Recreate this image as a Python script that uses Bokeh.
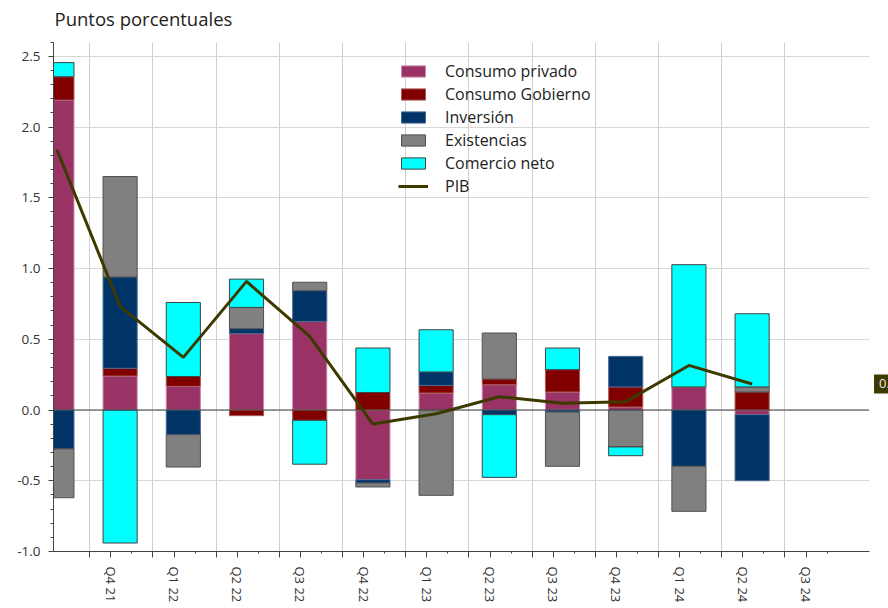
import numpy as np
from bokeh.plotting import figure
from bokeh.models import (ColumnDataSource, Range1d, FixedTicker, CustomJSTickFormatter,
                          Legend, LegendItem, Label)
from bokeh.embed import file_html
from bokeh.resources import INLINE

# ---------------- data ----------------
quarters = ["Q3 21", "Q4 21", "Q1 22", "Q2 22", "Q3 22", "Q4 22",
            "Q1 23", "Q2 23", "Q3 23", "Q4 23", "Q1 24", "Q2 24"]
tick_labels = ["Q4 21", "Q1 22", "Q2 22", "Q3 22", "Q4 22", "Q1 23",
               "Q2 23", "Q3 23", "Q4 23", "Q1 24", "Q2 24", "Q3 24"]

consumo_privado = [2.19, 0.24, 0.167, 0.54, 0.626, -0.493, 0.12, 0.179, 0.127, 0.021, 0.163, -0.033]
consumo_gobierno = [0.165, 0.055, 0.07, -0.04, -0.073, 0.124, 0.054, 0.04, 0.158, 0.142, 0.0, 0.127]
inversion = [-0.275, 0.645, -0.175, 0.035, 0.217, -0.023, 0.095, -0.033, -0.015, 0.216, -0.398, -0.467]
existencias = [-0.345, 0.71, -0.228, 0.15, 0.06, -0.028, -0.603, 0.325, -0.383, -0.261, -0.318, 0.036]
comercio_neto = [0.10, -0.94, 0.523, 0.20, -0.31, 0.314, 0.298, -0.443, 0.153, -0.062, 0.864, 0.517]
pib = [1.84, 0.732, 0.372, 0.909, 0.52, -0.099, -0.026, 0.094, 0.047, 0.059, 0.315, 0.184]
pib_last_label = "0.18"

y_ticks = [-1.0, -0.5, 0.0, 0.5, 1.0, 1.5, 2.0, 2.5]

series_names = ["Consumo privado", "Consumo Gobierno", "Inversión", "Existencias", "Comercio neto"]
series_values = [consumo_privado, consumo_gobierno, inversion, existencias, comercio_neto]
fill_colors = ["#993366", "#800000", "#003366", "#808080", "#00ffff"]
line_colors = ["#c98aa9", "#a85a5a", "#4a6a90", "#505050", "#404040"]
pib_color = "#3d3a00"
title_text = "Puntos porcentuales"

FONT = "Open Sans"

# ---------------- layout constants ----------------
W, H = 888, 608
LEFT, BOTTOM = 53, 57
PX_X, PX_Y = 63.2, 141.5           # pixels per unit
X_LO, X_AXIS_HI = -0.054, 12.85    # visible axis extent
Y_LO, Y_AXIS_HI = -1.0, 2.6
X_HI = X_LO + (W - LEFT) / PX_X    # frame spans to the right edge
Y_HI = Y_LO + (H - BOTTOM) / PX_Y  # frame spans to the top edge

n = len(quarters)
xs = np.arange(n, dtype=float)

p = figure(width=W, height=H, output_backend="svg", toolbar_location=None,
           x_range=Range1d(X_LO, X_HI), y_range=Range1d(Y_LO, Y_HI),
           min_border_left=LEFT, min_border_right=0, min_border_top=0,
           min_border_bottom=BOTTOM)
p.outline_line_color = None
p.background_fill_color = "white"
p.border_fill_color = "white"

# stacked bars (positives and negatives stacked separately)
pos_base = np.zeros(n)
neg_base = np.zeros(n)
renderers = []
for name, vals, fc, lc in zip(series_names, series_values, fill_colors, line_colors):
    v = np.array(vals, dtype=float)
    bottom = np.where(v >= 0, pos_base, neg_base)
    top = bottom + v
    pos_base = pos_base + np.maximum(v, 0)
    neg_base = neg_base + np.minimum(v, 0)
    src = ColumnDataSource(dict(x=xs, bottom=bottom, top=top))
    r = p.vbar(x="x", width=0.54, bottom="bottom", top="top", source=src,
               fill_color=fc, line_color=lc, line_width=1)
    renderers.append((name, r))

# zero reference line across the plotting area
p.segment(x0=[X_LO], y0=[0.0], x1=[X_AXIS_HI], y1=[0.0], line_color="#404040", line_width=1)

pib_r = p.line(xs, pib, line_color=pib_color, line_width=3)
renderers.append(("PIB", pib_r))

# ---------------- axes ----------------
boundaries = [i - 0.48 for i in range(1, 13)]
label_pos = [i - 0.1467 for i in range(1, 13)]
minor_pos = [i + 0.1867 for i in range(1, 13)]

xax = p.xaxis[0]
xax.bounds = (X_LO, X_AXIS_HI)
xax.ticker = FixedTicker(ticks=sorted(boundaries + label_pos), minor_ticks=minor_pos)
xax.formatter = CustomJSTickFormatter(args=dict(labels=tick_labels), code="""
    const k = Math.round(tick + 0.1467);
    if (Math.abs(tick - (k - 0.1467)) < 1e-6 && k >= 1 && k <= labels.length) {
        return labels[k - 1];
    }
    return "";
""")
xax.major_label_orientation = "vertical"
xax.major_label_text_font = FONT
xax.major_label_text_font_size = "13px"
xax.major_label_text_color = "#333333"
xax.major_label_standoff = 9
xax.major_tick_out = 6
xax.major_tick_in = 0
xax.minor_tick_out = 2
xax.minor_tick_in = 0
xax.axis_line_color = "#444444"
xax.major_tick_line_color = "#444444"
xax.minor_tick_line_color = "#444444"

yax = p.yaxis[0]
yax.bounds = (Y_LO, Y_AXIS_HI)
yax.ticker = FixedTicker(ticks=y_ticks,
                         minor_ticks=[round(-1.0 + 0.1 * k, 2) for k in range(37)])
yax.formatter = CustomJSTickFormatter(code="return tick.toFixed(1);")
yax.major_label_text_font = FONT
yax.major_label_text_font_size = "13.5px"
yax.major_label_text_color = "#333333"
yax.major_label_standoff = 8
yax.major_tick_out = 5
yax.major_tick_in = 0
yax.minor_tick_out = 3
yax.minor_tick_in = 0
yax.axis_line_color = "#444444"
yax.major_tick_line_color = "#444444"
yax.minor_tick_line_color = "#444444"

p.xgrid.ticker = FixedTicker(ticks=boundaries)
p.xgrid.grid_line_color = "#d0d0d0"
p.ygrid.grid_line_color = "#d8d8d8"
try:
    p.ygrid.cross_bounds = (X_LO, X_AXIS_HI)
    p.xgrid.cross_bounds = (Y_LO, Y_AXIS_HI)
except Exception:
    pass

# ---------------- legend ----------------
legend = Legend(items=[LegendItem(label=nm, renderers=[r]) for nm, r in renderers],
                location=(345, 354), orientation="vertical",
                glyph_width=30, glyph_height=14, label_standoff=17, spacing=1,
                padding=0, margin=0, label_height=20,
                label_text_font=FONT, label_text_font_size="16px",
                label_text_color="#222222",
                border_line_alpha=0, background_fill_alpha=0)
p.add_layout(legend)

# title in the band above the axis
title = Label(x=X_LO + 1 / PX_X, y=Y_LO + (H - BOTTOM - 18) / PX_Y, text=title_text,
              text_font=FONT, text_font_size="18.5px", text_color="#222222",
              text_baseline="middle", text_align="left")
p.add_layout(title)

# last value flag on the right edge
flag_box = Label(x=X_AXIS_HI, y=pib[-1], text=pib_last_label, text_font=FONT,
                 text_font_size="13px", text_color=pib_color, text_baseline="middle",
                 text_align="left", x_offset=5, background_fill_color=pib_color, padding=5)
p.add_layout(flag_box)
flag_txt = Label(x=X_AXIS_HI, y=pib[-1], text=pib_last_label, text_font=FONT,
                 text_font_size="13px", text_color="#e6e6e6", text_baseline="middle",
                 text_align="left", x_offset=10)
p.add_layout(flag_txt)

open("out.html", "w").write(file_html(p, INLINE))
